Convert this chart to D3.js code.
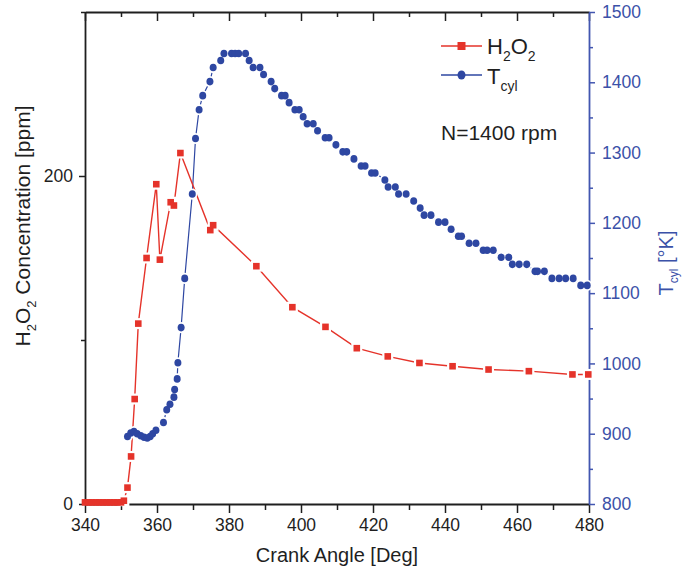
<!DOCTYPE html>
<html><head><meta charset="utf-8">
<script src="https://cdn.jsdelivr.net/npm/d3@7"></script>
<style>
html,body{margin:0;padding:0;background:#fff;}
svg{display:block;font-family:"Liberation Sans",Arial,Helvetica,sans-serif;}
</style></head>
<body><svg id="c" width="683" height="574"></svg>
<script>
// ---- data ----
const h2o2Angle = [340, 341, 342, 343, 344, 345, 346, 347, 348, 349, 350, 350.8, 351.8, 352.8, 353.8, 354.8, 357.1, 359.8, 360.8, 363.8, 364.7, 366.5, 374.8, 375.6, 387.6, 397.6, 406.8, 415.5, 424.1, 432.9, 442.1, 452.1, 463.3, 475.4, 479.8];
const h2o2Ppm   = [1, 1, 1, 1, 1, 1, 1, 1, 1, 1, 1, 2, 10, 29, 64, 110, 150, 195, 149, 184, 182, 214, 167, 170, 145, 120, 108, 95, 90, 86, 84, 82, 81, 79, 79];

const tcylAngle = [351.8, 352.7, 353.6, 354.5, 355.5, 356.4, 357.3, 358.1, 358.8, 359.7, 361.8, 362.7, 363.6, 364.7, 364.9, 365.6, 365.8, 366.7, 367.7, 369.8, 370.7, 371.7, 372.7, 374.7, 375.6, 377.7, 378.6, 380.7, 381.7, 382.7, 384.6, 385.6, 386.7, 388.6, 389.6, 391.7, 392.7, 394.6, 395.6, 396.7, 398.3, 399.5, 400.6, 401.7, 403.4, 404.6, 406.7, 407.8, 409.7, 411.6, 412.7, 414.7, 416.7, 417.8, 419.6, 420.6, 423.3, 424.2, 426.2, 427.1, 429.2, 431.3, 433.1, 434.2, 436.1, 438.2, 440.0, 441.7, 443.7, 444.6, 446.7, 448.6, 450.6, 451.7, 453.4, 455.6, 457.7, 458.7, 460.6, 462.7, 465.0, 465.7, 467.6, 469.7, 471.7, 473.5, 475.6, 477.7, 479.5];
const tcylK     = [896, 901, 903, 900, 897, 895, 894, 896, 900, 905, 916, 934, 942, 952, 963, 978, 1001, 1051, 1121, 1241, 1320, 1361, 1381, 1401, 1421, 1431, 1441, 1441, 1441, 1441, 1441, 1431, 1421, 1421, 1411, 1401, 1391, 1381, 1381, 1371, 1361, 1361, 1351, 1341, 1341, 1331, 1321, 1321, 1311, 1301, 1301, 1291, 1281, 1281, 1271, 1271, 1261, 1251, 1251, 1241, 1241, 1231, 1221, 1211, 1211, 1201, 1201, 1191, 1181, 1181, 1171, 1171, 1161, 1161, 1161, 1151, 1151, 1141, 1141, 1141, 1131, 1131, 1131, 1121, 1121, 1121, 1121, 1111, 1111];

const xMajor = [340, 360, 380, 400, 420, 440, 460, 480];
const xMinor = [350, 370, 390, 410, 430, 450, 470];
const yLMajor = [0, 200];
const yLMinor = [100, 300];
const yRMajor = [800, 900, 1000, 1100, 1200, 1300, 1400, 1500];
const yRMinor = [850, 950, 1050, 1150, 1250, 1350, 1450];

// ---- drawing ----
const RED = "#e5332a", BLUE = "#2e47a2", AXB = "#4256b0", TXB = "#3b51a8", INK = "#1f1f1f";
const svg = d3.select("#c");
const L = 85, R = 589, T = 12, B = 504;
const x = d3.scaleLinear().domain([340, 480]).range([L, R]);
const yL = d3.scaleLinear().domain([0, 300]).range([B, T]);
const yR = d3.scaleLinear().domain([800, 1500]).range([B, T]);
const fmt = d3.format("d");

function styleAxis(g, color, fs) {
  g.selectAll("path.domain").attr("stroke", color).attr("stroke-width", 1.8);
  g.selectAll(".tick line").attr("stroke", color).attr("stroke-width", 1.5);
  g.selectAll(".tick text").attr("fill", color).attr("font-size", fs)
   .attr("font-family", '"Liberation Sans",Arial,sans-serif');
}

// bottom axis
const gb = svg.append("g").attr("transform", `translate(0,${B})`)
  .call(d3.axisBottom(x).tickValues(xMajor).tickSizeInner(9).tickSizeOuter(0).tickPadding(6).tickFormat(fmt));
styleAxis(gb, INK, "17.5px");
const gbm = svg.append("g").attr("transform", `translate(0,${B})`)
  .call(d3.axisBottom(x).tickValues(xMinor).tickSizeInner(6).tickSizeOuter(0).tickFormat(""));
styleAxis(gbm, INK); gbm.select("path.domain").remove();

// top axis (ticks inward)
const gt = svg.append("g").attr("transform", `translate(0,${T})`)
  .call(d3.axisTop(x).tickValues(xMajor).tickSizeInner(-9).tickSizeOuter(0).tickFormat(""));
styleAxis(gt, INK);
const gtm = svg.append("g").attr("transform", `translate(0,${T})`)
  .call(d3.axisTop(x).tickValues(xMinor).tickSizeInner(-5).tickSizeOuter(0).tickFormat(""));
styleAxis(gtm, INK); gtm.select("path.domain").remove();

// left axis
const gl = svg.append("g").attr("transform", `translate(${L},0)`)
  .call(d3.axisLeft(yL).tickValues(yLMajor).tickSizeInner(6).tickSizeOuter(0).tickPadding(6).tickFormat(fmt));
styleAxis(gl, INK, "17.5px");
const glm = svg.append("g").attr("transform", `translate(${L},0)`)
  .call(d3.axisLeft(yL).tickValues(yLMinor).tickSizeInner(4).tickSizeOuter(0).tickFormat(""));
styleAxis(glm, INK); glm.select("path.domain").remove();

// right axis
const gr = svg.append("g").attr("transform", `translate(${R},0)`)
  .call(d3.axisRight(yR).tickValues(yRMajor).tickSizeInner(6).tickSizeOuter(0).tickPadding(7).tickFormat(fmt));
styleAxis(gr, AXB, "17.5px");
gr.selectAll(".tick text").attr("fill", TXB);
const grm = svg.append("g").attr("transform", `translate(${R},0)`)
  .call(d3.axisRight(yR).tickValues(yRMinor).tickSizeInner(4).tickSizeOuter(0).tickFormat(""));
styleAxis(grm, AXB); grm.select("path.domain").remove();

// series
const h2o2 = h2o2Angle.map((a, i) => ({a, v: h2o2Ppm[i]}));
const tcyl = tcylAngle.map((a, i) => ({a, v: tcylK[i]}));

const plot = svg.append("g");
plot.append("path").datum(tcyl)
  .attr("fill", "none").attr("stroke", BLUE).attr("stroke-width", 1.2)
  .attr("d", d3.line().x(d => x(d.a)).y(d => yR(d.v)));
plot.append("path").datum(h2o2)
  .attr("fill", "none").attr("stroke", RED).attr("stroke-width", 1.4)
  .attr("d", d3.line().x(d => x(d.a)).y(d => yL(d.v)));

// halos (gap in line around symbols)
plot.selectAll("rect.halo").data(h2o2.slice(11)).join("rect")
  .attr("x", d => x(d.a) - 5.5).attr("y", d => yL(d.v) - 5.5)
  .attr("width", 11).attr("height", 11).attr("fill", "#fff");
plot.selectAll("ellipse.halo").data(tcyl).join("ellipse")
  .attr("cx", d => x(d.a)).attr("cy", d => yR(d.v)).attr("rx", 5.2).attr("ry", 5.6).attr("fill", "#fff");

plot.selectAll("rect.pt").data(h2o2).join("rect").attr("class", "pt")
  .attr("x", d => x(d.a) - 3.3).attr("y", d => yL(d.v) - 3.3)
  .attr("width", 6.6).attr("height", 6.6).attr("fill", RED);
plot.selectAll("ellipse.pt").data(tcyl).join("ellipse").attr("class", "pt")
  .attr("cx", d => x(d.a)).attr("cy", d => yR(d.v)).attr("rx", 3.5).attr("ry", 3.8).attr("fill", BLUE);

// legend
const lg = svg.append("g");
lg.append("line").attr("x1", 441).attr("x2", 482).attr("y1", 46).attr("y2", 46).attr("stroke", RED).attr("stroke-width", 1.4);
lg.append("rect").attr("x", 461.5 - 4).attr("y", 42).attr("width", 8).attr("height", 8).attr("fill", RED);
lg.append("line").attr("x1", 441).attr("x2", 482).attr("y1", 75).attr("y2", 75).attr("stroke", BLUE).attr("stroke-width", 1.4);
lg.append("ellipse").attr("cx", 461.5).attr("cy", 75).attr("rx", 4).attr("ry", 4.5).attr("fill", BLUE);

const t1 = lg.append("text").attr("x", 487).attr("y", 54).attr("font-size", "22px").attr("fill", INK);
t1.append("tspan").text("H");
t1.append("tspan").attr("font-size", "14px").attr("dy", 7).text("2");
t1.append("tspan").attr("dy", -7).text("O");
t1.append("tspan").attr("font-size", "14px").attr("dy", 7).text("2");

const t2 = lg.append("text").attr("x", 487).attr("y", 84).attr("font-size", "22px").attr("fill", INK);
t2.append("tspan").text("T");
t2.append("tspan").attr("font-size", "14px").attr("dy", 7).text("cyl");

svg.append("text").attr("x", 441).attr("y", 140).attr("font-size", "21px").attr("fill", INK).text("N=1400 rpm");

// axis titles
svg.append("text").attr("x", (L + R) / 2).attr("y", 562).attr("text-anchor", "middle")
  .attr("font-size", "20px").attr("fill", INK).text("Crank Angle [Deg]");

const yt = svg.append("text").attr("transform", "translate(30,226) rotate(-90)")
  .attr("text-anchor", "middle").attr("font-size", "21px").attr("fill", INK);
yt.append("tspan").text("H");
yt.append("tspan").attr("font-size", "13px").attr("dy", 6).text("2");
yt.append("tspan").attr("dy", -6).text("O");
yt.append("tspan").attr("font-size", "13px").attr("dy", 6).text("2");
yt.append("tspan").attr("dy", -6).text(" Concentration [ppm]");

const rt = svg.append("text").attr("transform", "translate(673,263) rotate(-90)")
  .attr("text-anchor", "middle").attr("font-size", "20px").attr("fill", TXB);
rt.append("tspan").text("T");
rt.append("tspan").attr("font-size", "12px").attr("dy", 5).text("cyl");
rt.append("tspan").attr("dy", -5).text("  [°K]");
</script></body></html>
